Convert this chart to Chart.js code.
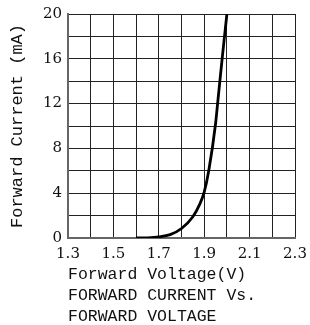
<!DOCTYPE html>
<html>
<head>
<meta charset="utf-8">
<script src="https://cdn.jsdelivr.net/npm/chart.js@4/dist/chart.umd.min.js"></script>
<style>
  html, body { margin: 0; padding: 0; background: #fff; }
  #wrap { width: 310px; height: 325px; }
</style>
</head>
<body>
<div id="wrap"><canvas id="ivChart" width="310" height="325"></canvas></div>
<script>
// curva I-V
const voltaje = [1.6, 1.65, 1.7, 1.75, 1.8, 1.85, 1.88, 1.9, 1.92, 1.95, 1.96, 1.98, 2.0];
const corriente = [0, 0.02, 0.1, 0.3, 0.85, 1.9, 3.0, 4.1, 6.0, 10.2, 12.2, 16.2, 20];

const xMin = 1.3, xMax = 2.3, xStep = 0.1;
const yMin = 0, yMax = 20, yStep = 2;

const yTitle = "Forward Current (mA)";
const xTitle = ["Forward Voltage(V)", "FORWARD CURRENT Vs.", "FORWARD VOLTAGE"];

const puntos = voltaje.map((v, i) => ({ x: v, y: corriente[i] }));

const monoFont = "'Courier New', 'Liberation Mono', monospace";
const serifFont = "'DejaVu Serif', 'Liberation Serif', serif";

const ctx = document.querySelector("#ivChart");
const myChart = new Chart(ctx, {
  type: "line",
  data: {
    datasets: [
      {
        data: puntos,
        borderColor: "#000",
        borderWidth: 2.8,
        pointRadius: 0,
        cubicInterpolationMode: "monotone",
        fill: false,
      },
    ],
  },
  options: {
    responsive: false,
    animation: false,
    layout: { padding: { top: 14, right: 15, left: 0, bottom: 0 } },
    plugins: { legend: { display: false }, tooltip: { enabled: false } },
    scales: {
      x: {
        type: "linear",
        min: xMin,
        max: xMax,
        border: { color: "#666", width: 2 },
        grid: { color: "#222", lineWidth: 1, drawTicks: false },
        ticks: {
          stepSize: xStep,
          autoSkip: false,
          maxRotation: 0,
          padding: 7,
          color: "#111",
          font: { family: serifFont, size: 15 },
          callback: (v) => (Math.round(v * 10) % 2 === 1 ? v.toFixed(1) : ""),
        },
        title: {
          display: true,
          text: xTitle,
          align: "start",
          color: "#111",
          font: { family: monoFont, size: 16.5, lineHeight: 1.28 },
          padding: { top: 0, bottom: -2 },
        },
        afterFit: (scale) => {
          scale.height = 87;
          scale.paddingLeft = 0;
          scale.paddingRight = 0;
        },
      },
      y: {
        min: yMin,
        max: yMax,
        border: { color: "#666", width: 2 },
        grid: { color: "#222", lineWidth: 1, drawTicks: false },
        ticks: {
          stepSize: yStep,
          autoSkip: false,
          padding: 6,
          color: "#111",
          font: { family: serifFont, size: 15 },
          callback: (v) => (v % 4 === 0 ? String(v) : ""),
        },
        title: {
          display: true,
          text: yTitle,
          color: "#111",
          font: { family: monoFont, size: 17, lineHeight: 1.2 },
          padding: { top: 7, bottom: 0 },
        },
        afterFit: (scale) => {
          scale.width = 68;
          scale.paddingTop = 0;
          scale.paddingBottom = 0;
        },
      },
    },
  },
});
</script>
</body>
</html>
